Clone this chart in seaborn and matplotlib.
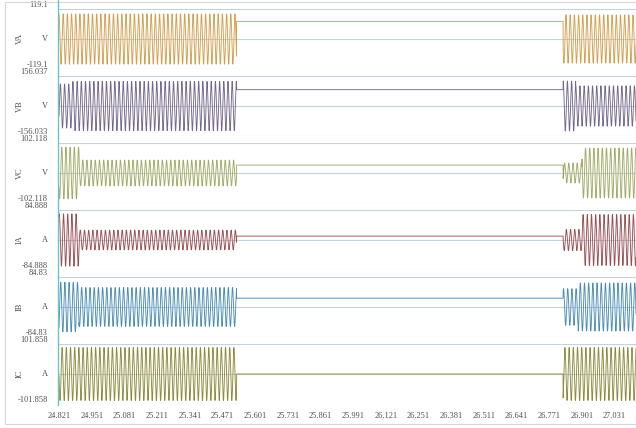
import numpy as np
import pandas as pd
import matplotlib
matplotlib.use("Agg")
import matplotlib.pyplot as plt
import seaborn as sns
from matplotlib.lines import Line2D
from matplotlib.patches import Rectangle

# Channel description
channels = ["VA", "VB", "VC", "IA", "IB", "IC"]
units = ["V", "V", "V", "A", "A", "A"]
y_limits = [119.1, 156.033, 102.118, 84.888, 84.83, 101.858]
top_labels = ["119.1", "156.037", "102.118", "84.888", "84.83", "101.858"]
bottom_labels = ["-119.1", "-156.033", "-102.118", "-84.888", "-84.83", "-101.858"]
colors = ["#d3a052", "#76688c", "#a2ab68", "#9a4f52", "#4d8db4", "#8e8b3e"]
phase_deg = [0, -120, 120, -30, -150, 90]

# Event timing (s) and system frequency
t_record_start = 24.821
t_open = 25.527
t_reclose = 26.826
t_record_end = 27.12
freq_hz = 60.0
sample_rate = 3840.0

# Peak values of each recorded segment
pre_initial_amp = [100, 115, 88, 74, 70, 90]
pre_initial_dur = [0.0, 0.05, 0.08, 0.08, 0.08, 0.0]
pre_steady_amp = [100, 128, 44, 28, 55, 90]
post_initial_amp = [100, 130, 34, 30, 52, 86]
post_initial_dur = [0.0, 0.05, 0.075, 0.075, 0.06, 0.0]
post_steady_amp = [96, 105, 85, 72, 68, 90]
hold_value = [70, 85, 27, 11, 25, 0]

xtick_values = [24.821, 24.951, 25.081, 25.211, 25.341, 25.471, 25.601, 25.731,
                25.861, 25.991, 26.121, 26.251, 26.381, 26.511, 26.641, 26.771,
                26.901, 27.031]

t = np.arange(t_record_start, t_record_end, 1.0 / sample_rate)

frames = []
for i, ch in enumerate(channels):
    amp = np.where(t < t_record_start + pre_initial_dur[i], pre_initial_amp[i], pre_steady_amp[i])
    amp = np.where(t >= t_reclose,
                   np.where(t < t_reclose + post_initial_dur[i], post_initial_amp[i], post_steady_amp[i]),
                   amp)
    wave = amp * np.sin(2 * np.pi * freq_hz * t + np.deg2rad(phase_deg[i]))
    open_mask = (t >= t_open) & (t < t_reclose)
    wave = np.where(open_mask, hold_value[i], wave)
    frames.append(pd.DataFrame({"time": t, "value": wave, "channel": ch}))
df = pd.concat(frames, ignore_index=True)

sns.set_style("white")
plt.rcParams["font.family"] = ["Liberation Serif", "DejaVu Serif"]

W, H = 636, 428
fig = plt.figure(figsize=(W / 100, H / 100), dpi=100)
fig.patch.set_facecolor("white")

left_px = 58
panel_top0 = 9
panel_h = 60
panel_pitch = 67
grid_color = "#c3d4d9"
text_color = "#505050"
label_size = 6.0
xlo, xhi = 24.817, 27.116
label_x = -10 / (W - left_px)

axes = []
for i, ch in enumerate(channels):
    top = panel_top0 + panel_pitch * i
    ax = fig.add_axes([left_px / W, 1 - (top + panel_h) / H, (W - left_px) / W, panel_h / H])
    lim = y_limits[i]
    ax.set_ylim(-lim, lim)
    ax.set_xlim(xlo, xhi)
    for yv in (-lim, 0, lim):
        ax.axhline(yv, color=grid_color, lw=0.8, zorder=1)
    sub = df[df["channel"] == ch]
    sns.lineplot(data=sub, x="time", y="value", ax=ax, color=colors[i],
                 lw=0.65, estimator=None, sort=False, legend=False, zorder=2)
    for s in ax.spines.values():
        s.set_visible(False)
    ax.set_yticks([])
    ax.set_ylabel("")
    ax.set_xlabel("")
    # value range and unit labels
    ax.text(label_x, 1.0, top_labels[i], transform=ax.transAxes,
            ha="right", va="bottom", fontsize=label_size, color=text_color)
    ax.text(label_x, 0.0, bottom_labels[i], transform=ax.transAxes,
            ha="right", va="bottom", fontsize=label_size, color=text_color)
    ax.text(label_x, 0.5, units[i], transform=ax.transAxes,
            ha="right", va="center", fontsize=label_size, color=text_color)
    fig.text(20 / W, 1 - (top + panel_h / 2) / H, ch, rotation=90,
             ha="center", va="center", fontsize=6.0, color=text_color)
    if i < len(channels) - 1:
        ax.set_xticks([])
    axes.append(ax)

bottom_ax = axes[-1]
bottom_ax.set_xticks(xtick_values)
bottom_ax.set_xticklabels([f"{v:.3f}" for v in xtick_values], fontsize=label_size, color=text_color)
bottom_ax.tick_params(axis="x", direction="inout", length=4, width=0.6, color="#b8c4c8", pad=4)

# continuous vertical axis line on the left of all panels
fig.add_artist(Line2D([left_px / W, left_px / W], [1 - 405 / H, 1.0], color="#6cc4c4", lw=1.0))
# outer frame
fig.add_artist(Rectangle((5 / W, 1 - 424 / H), (W - 5) / W, 422 / H, transform=fig.transFigure,
                         fill=False, edgecolor="#d8d8d8", lw=0.8))

fig.savefig("out.png", dpi=100, facecolor="white")
